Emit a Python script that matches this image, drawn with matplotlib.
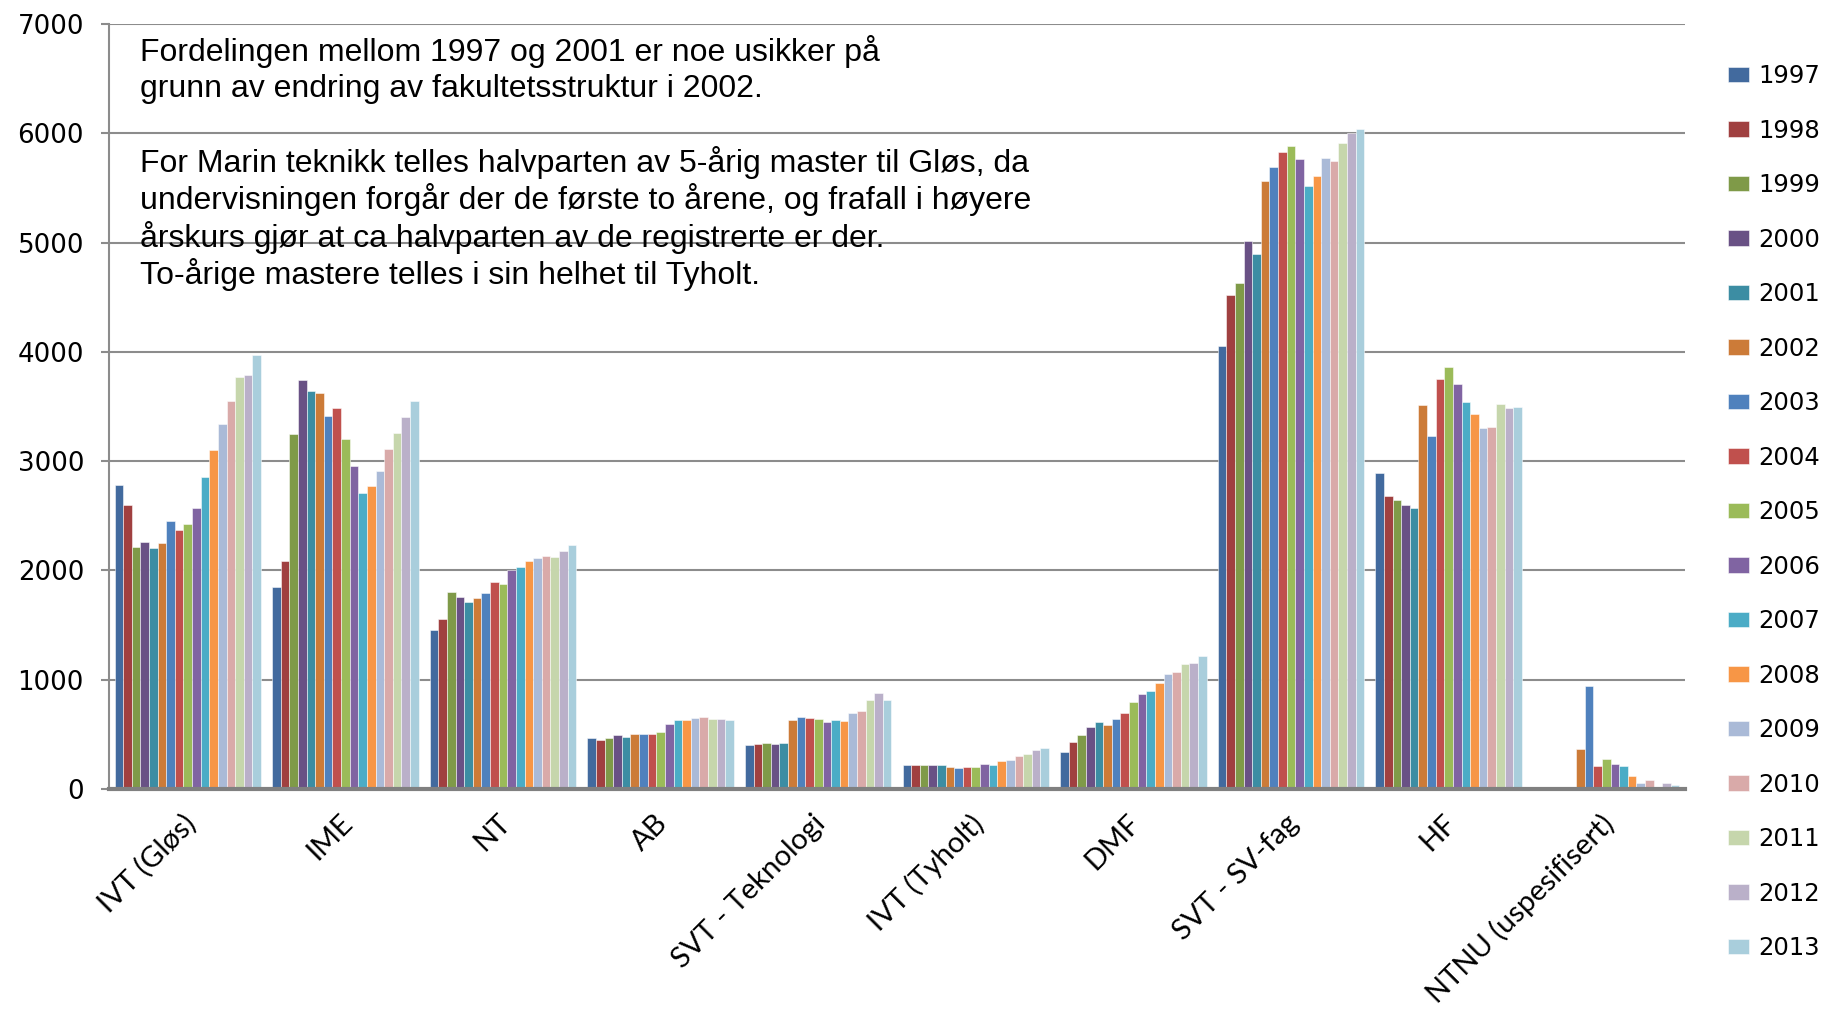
import matplotlib
matplotlib.use("Agg")
import matplotlib.pyplot as plt
import matplotlib.transforms as mtransforms
import numpy as np

categories = ["IVT (Gløs)", "IME", "NT", "AB", "SVT - Teknologi", "IVT (Tyholt)",
              "DMF", "SVT - SV-fag", "HF", "NTNU (uspesifisert)"]
years = ["1997", "1998", "1999", "2000", "2001", "2002", "2003", "2004", "2005",
         "2006", "2007", "2008", "2009", "2010", "2011", "2012", "2013"]

# values per category, 1997..2013
ivt_glos = [2783, 2597, 2212, 2261, 2203, 2249, 2450, 2368, 2429, 2573, 2854, 3101, 3339, 3550, 3773, 3792, 3969]
ime = [1846, 2084, 3247, 3744, 3644, 3619, 3412, 3488, 3201, 2951, 2710, 2774, 2911, 3110, 3256, 3403, 3549]
nt = [1456, 1551, 1802, 1753, 1707, 1744, 1792, 1896, 1875, 2006, 2027, 2082, 2113, 2134, 2122, 2177, 2229]
ab = [470, 451, 463, 494, 479, 503, 506, 506, 518, 595, 631, 634, 649, 655, 637, 640, 628]
svt_tek = [405, 412, 418, 415, 418, 634, 662, 652, 643, 613, 634, 622, 692, 710, 814, 878, 811]
ivt_tyholt = [220, 220, 223, 220, 220, 199, 193, 202, 199, 232, 223, 254, 266, 306, 324, 361, 373]
dmf = [343, 428, 492, 569, 609, 590, 639, 694, 792, 872, 899, 972, 1049, 1073, 1147, 1156, 1220]
svt_sv = [4058, 4524, 4630, 5014, 4892, 5566, 5693, 5832, 5885, 5762, 5517, 5607, 5774, 5742, 5913, 6003, 6036]
hf = [2895, 2681, 2644, 2602, 2571, 3518, 3231, 3756, 3860, 3707, 3542, 3429, 3304, 3313, 3524, 3487, 3499]
ntnu = [0, 0, 0, 0, 0, 370, 939, 208, 278, 232, 214, 116, 58, 86, 15, 58, 37]

colors = ["#426A9E", "#A04040", "#7F9A48", "#695185", "#3C8DA3", "#CC7B38", "#4F81BD",
          "#C0504D", "#9BBB59", "#8064A2", "#4BACC6", "#F79646", "#AABAD7", "#D9AAA9",
          "#C6D6AC", "#BAB0C9", "#A9CEDC"]

note1 = "Fordelingen mellom 1997 og 2001 er noe usikker på\ngrunn av endring av fakultetsstruktur i 2002."
note2 = ("For Marin teknikk telles halvparten av 5-årig master til Gløs, da\n"
         "undervisningen forgår der de første to årene, og frafall i høyere\n"
         "årskurs gjør at ca halvparten av de registrerte er der.\n"
         "To-årige mastere telles i sin helhet til Tyholt.")

data = np.array([ivt_glos, ime, nt, ab, svt_tek, ivt_tyholt, dmf, svt_sv, hf, ntnu])

W, H = 1825, 1009
fig = plt.figure(figsize=(W / 100, H / 100), dpi=100)
ax = fig.add_axes([109 / W, 220 / H, (1685 - 109) / W, (789 - 24) / H])

n = len(years)
group = 0.93
w = group / n
x = np.arange(len(categories))
for i in range(n):
    ax.bar(x - group / 2 + w * (i + 0.5), data[:, i], width=w, color=colors[i],
           edgecolor=(1, 1, 1, 0.6), linewidth=0.6, label=years[i], zorder=3)

ax.set_xlim(-0.5, len(categories) - 0.5)
ax.set_ylim(0, 7000)
ax.set_yticks(range(0, 7001, 1000))
ax.yaxis.grid(True, color="#8c8c8c", linewidth=1.5, zorder=0)
ax.set_axisbelow(True)
for s in ["top", "right"]:
    ax.spines[s].set_visible(False)
ax.spines["left"].set_color("#8c8c8c")
ax.spines["left"].set_linewidth(1.5)
ax.spines["bottom"].set_color("#808080")
ax.spines["bottom"].set_linewidth(3)
ax.spines["bottom"].set_zorder(4)

ax.tick_params(axis="y", length=6, width=1.5, color="#8c8c8c", pad=12, labelsize=18.7)
ax.tick_params(axis="x", length=0, pad=15)
ax.set_xticks(x)
ax.set_xticklabels(categories, rotation=45, ha="right", va="top",
                   rotation_mode="anchor", fontsize=21, family="Lato")
shift = mtransforms.ScaledTranslation(-6 / 100, 0, fig.dpi_scale_trans)
for lab in ax.get_xticklabels():
    lab.set_transform(lab.get_transform() + shift)

fig.text(140 / W, 1 - 35 / H, note1, fontsize=23, family="Liberation Sans",
         va="top", linespacing=1.27)
fig.text(140 / W, 1 - 146 / H, note2, fontsize=23, family="Liberation Sans",
         va="top", linespacing=1.17)

fig.legend(loc="upper left", bbox_to_anchor=(1728 / W, 1 - 64 / H), frameon=False,
           fontsize=17.5, handlelength=0.85, handleheight=0.6, handletextpad=0.4,
           labelspacing=1.255, borderaxespad=0, borderpad=0)

fig.savefig("out.png", dpi=100)
